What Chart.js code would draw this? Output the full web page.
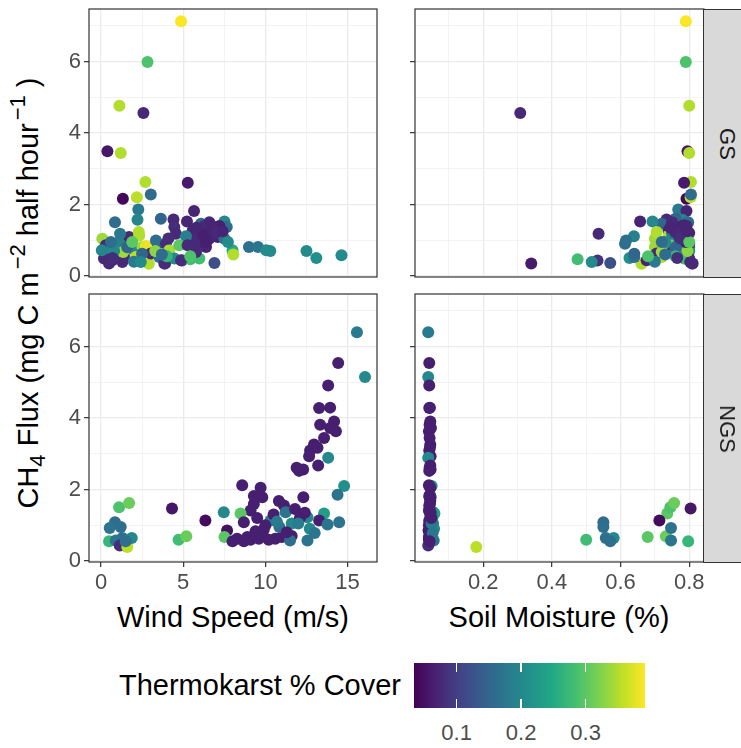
<!DOCTYPE html>
<html lang="en">
<head>
<meta charset="UTF-8" />
<title>CH4 Flux vs Wind Speed and Soil Moisture</title>
<script src="https://cdn.jsdelivr.net/npm/chart.js"></script>
<style>
  body {
    margin: 0;
    background: #ffffff;
    width: 741px;
    height: 748px;
    overflow: hidden;
    position: relative;
    font-family: 'Liberation Sans', Arial, sans-serif;
  }
  canvas { position: absolute; }
  .strip {
    position: absolute;
    background: #d9d9d9;
    border: 1px solid #333333;
    border-right: none;
    box-sizing: border-box;
  }
  .strip span {
    position: absolute;
    left: 23px;
    top: 50%;
    transform: translate(-50%, -50%) rotate(90deg);
    font-size: 22px;
    color: #1a1a1a;
    white-space: nowrap;
  }
  .title {
    position: absolute;
    font-size: 29px;
    color: #000000;
    white-space: nowrap;
    transform: translate(-50%, -50%);
  }
  .ytitle { transform: translate(-50%, -50%) rotate(-90deg); }
  .ytitle sub { font-size: 22px; vertical-align: -7px; line-height: 0; }
  .ytitle sup { font-size: 22px; vertical-align: 13px; line-height: 0; margin-left: 3px; }
  .legend-title {
    position: absolute;
    font-size: 29px;
    color: #000000;
    white-space: nowrap;
  }
  .colorbar { position: absolute; }
  .cb-tick { position: absolute; width: 1.5px; background: #ffffff; }
  .cb-label {
    position: absolute;
    font-size: 22px;
    color: #4d4d4d;
    transform: translate(-50%, -50%);
  }
</style>
</head>
<body>
<div class="title ytitle" style="left:28px; top:293px;">CH<sub>4</sub> Flux (mg C m<sup>&minus;2</sup> half hour<sup>&minus;1</sup> )</div>
<div class="title" style="left:233px; top:617px;">Wind Speed (m/s)</div>
<div class="title" style="left:559px; top:617px;">Soil Moisture (%)</div>

<script>
  // facet labels and axis ticks
  const facets = ['GS', 'NGS'];
  const fluxTicks = [0, 2, 4, 6];
  const windTicks = [0, 5, 10, 15];
  const soilTicks = [0.2, 0.4, 0.6, 0.8];
  const coverTicks = [0.1, 0.2, 0.3];

  // GS observations: wind speed, soil moisture, CH4 flux, thermokarst cover
  const gsWind  = [4.87, 2.83, 1.12, 2.58, 0.39, 1.20, 2.70, 5.28, 1.33, 2.18, 3.03, 2.27, 5.66, 2.22, 0.85, 3.64, 4.41, 5.23, 6.08, 6.59,
                   7.51, 7.65, 5.58, 6.09, 6.49, 6.90, 5.98, 6.59, 7.10, 5.37, 5.74, 6.39, 4.46, 4.56, 5.17, 3.44, 7.51, 8.00, 8.05, 9.00,
                   9.55, 10.05, 10.30, 12.50, 13.10, 14.63, 6.90, 4.92, 5.43, 3.90, 2.91, 2.70, 0.08, 0.29, 0.49, 0.18, 0.69, 1.10, 0.99, 1.40,
                   1.71, 1.91, 2.12, 2.52, 2.73, 3.03, 3.34, 3.54, 3.95, 4.15, 3.85, 4.46, 4.87, 4.76, 5.27, 5.98, 5.78, 1.30, 0.49, 2.32,
                   1.35, 0.80, 0.05, 1.16, 2.30, 7.72, 6.30, 6.80, 7.20, 5.90, 2.00, 1.60, 0.60, 3.30, 4.00, 2.50, 2.42, 5.43,
                   6.20, 6.70, 7.00, 5.80, 6.40, 4.10, 3.70, 1.90, 0.70, 7.40];
  const gsSoil  = [0.790, 0.790, 0.800, 0.308, 0.795, 0.800, 0.805, 0.785, 0.792, 0.804, 0.805, 0.768, 0.792, 0.780, 0.797, 0.760, 0.734, 0.657, 0.720, 0.750,
                   0.693, 0.780, 0.740, 0.760, 0.745, 0.770, 0.755, 0.775, 0.765, 0.735, 0.750, 0.790, 0.780, 0.536, 0.639, 0.613, 0.785, 0.740, 0.760, 0.795,
                   0.800, 0.780, 0.790, 0.800, 0.626, 0.790, 0.570, 0.533, 0.475, 0.340, 0.661, 0.720, 0.700, 0.760, 0.790, 0.800, 0.676, 0.740, 0.780, 0.795,
                   0.770, 0.790, 0.720, 0.700, 0.730, 0.705, 0.616, 0.640, 0.800, 0.725, 0.810, 0.790, 0.800, 0.745, 0.770, 0.785, 0.750, 0.803, 0.808, 0.740,
                   0.720, 0.760, 0.775, 0.750, 0.705, 0.730, 0.792, 0.800, 0.780, 0.785, 0.700, 0.760, 0.720, 0.795, 0.760, 0.640, 0.516, 0.680,
                   0.770, 0.785, 0.760, 0.745, 0.790, 0.775, 0.730, 0.800, 0.765, 0.795];
  const gsFlux  = [7.13, 5.99, 4.76, 4.56, 3.49, 3.44, 2.63, 2.61, 2.16, 2.20, 2.28, 1.86, 1.82, 1.57, 1.50, 1.60, 1.58, 1.52, 1.46, 1.50,
                   1.52, 1.37, 1.27, 1.18, 1.32, 1.27, 0.99, 1.04, 1.09, 0.99, 0.86, 0.81, 1.37, 1.18, 1.11, 0.90, 1.04, 0.72, 0.60, 0.81,
                   0.81, 0.72, 0.70, 0.70, 0.50, 0.58, 0.36, 0.43, 0.47, 0.35, 0.34, 0.82, 1.04, 0.86, 0.67, 0.49, 0.44, 0.95, 0.63, 0.55,
                   1.09, 0.76, 0.53, 0.81, 0.84, 0.63, 0.99, 0.53, 0.90, 0.72, 0.35, 0.49, 0.44, 0.86, 0.86, 0.49, 0.67, 0.39, 0.35, 1.13,
                   0.67, 0.70, 0.72, 1.18, 1.23, 0.95, 1.40, 1.20, 1.40, 1.10, 0.40, 0.80, 0.95, 0.70, 0.55, 0.62, 0.39, 0.55,
                   1.15, 1.42, 1.22, 1.35, 0.95, 1.05, 0.60, 0.95, 0.50, 1.25];
  const gsCover = [0.390, 0.290, 0.350, 0.075, 0.055, 0.350, 0.350, 0.060, 0.040, 0.355, 0.160, 0.180, 0.070, 0.195, 0.160, 0.150, 0.075, 0.070, 0.150, 0.075,
                   0.200, 0.165, 0.070, 0.070, 0.065, 0.075, 0.070, 0.075, 0.070, 0.080, 0.075, 0.070, 0.080, 0.075, 0.190, 0.160, 0.165, 0.250, 0.350, 0.165,
                   0.175, 0.205, 0.205, 0.205, 0.210, 0.205, 0.120, 0.085, 0.280, 0.060, 0.350, 0.360, 0.340, 0.075, 0.200, 0.075, 0.070, 0.190, 0.290, 0.080,
                   0.075, 0.200, 0.355, 0.340, 0.380, 0.075, 0.165, 0.165, 0.080, 0.345, 0.080, 0.200, 0.080, 0.300, 0.075, 0.280, 0.075, 0.075, 0.075, 0.350,
                   0.340, 0.200, 0.195, 0.180, 0.350, 0.205, 0.075, 0.070, 0.065, 0.075, 0.180, 0.150, 0.160, 0.330, 0.270, 0.150, 0.205, 0.290,
                   0.065, 0.070, 0.075, 0.070, 0.065, 0.080, 0.160, 0.300, 0.080, 0.070];

  // NGS observations
  const ngsWind  = [15.57, 14.43, 16.06, 13.82, 13.27, 13.94, 13.33, 14.18, 14.29, 13.94, 13.57, 12.96, 12.72, 12.66, 13.17, 13.82, 13.21, 11.90, 12.30, 12.05,
                    14.79, 14.39, 8.59, 9.71, 9.30, 9.81, 12.31, 9.30, 9.10, 10.82, 11.13, 7.47, 8.49, 8.69, 6.35, 4.32, 11.23, 10.32, 12.56, 13.57,
                    13.27, 13.78, 14.49, 7.67, 7.51, 8.28, 8.69, 9.10, 9.60, 9.85, 10.20, 10.60, 9.40, 9.90, 8.90, 11.00, 11.60, 11.50, 12.56, 10.85,
                    11.60, 12.70, 4.72, 5.19, 1.10, 1.71, 0.85, 0.53, 1.30, 0.49, 0.90, 1.14, 1.60, 1.87, 1.50, 10.50, 11.80, 12.10, 10.00, 11.30,
                    12.00, 12.40, 10.70, 9.50, 13.00, 8.00, 1.20];
  const ngsSoil  = [0.040, 0.043, 0.040, 0.043, 0.043, 0.045, 0.044, 0.046, 0.042, 0.048, 0.044, 0.046, 0.043, 0.047, 0.045, 0.040, 0.046, 0.044, 0.047, 0.043,
                    0.050, 0.045, 0.042, 0.046, 0.043, 0.047, 0.044, 0.045, 0.042, 0.046, 0.043, 0.055, 0.736, 0.044, 0.713, 0.804, 0.050, 0.048, 0.052, 0.058,
                    0.043, 0.047, 0.052, 0.041, 0.679, 0.042, 0.045, 0.043, 0.047, 0.044, 0.046, 0.043, 0.048, 0.045, 0.042, 0.047, 0.044, 0.053, 0.056, 0.050,
                    0.054, 0.057, 0.500, 0.732, 0.745, 0.756, 0.550, 0.747, 0.557, 0.797, 0.747, 0.040, 0.180, 0.580, 0.570, 0.046, 0.044, 0.048, 0.042, 0.045,
                    0.050, 0.047, 0.051, 0.049, 0.053, 0.044, 0.550];
  const ngsFlux  = [6.40, 5.54, 5.15, 4.91, 4.28, 4.29, 3.81, 3.90, 3.63, 3.72, 3.44, 3.26, 3.09, 2.93, 3.17, 2.89, 2.67, 2.61, 2.56, 2.52,
                    2.10, 1.85, 2.12, 2.05, 1.82, 1.78, 1.78, 1.59, 1.41, 1.68, 1.55, 1.36, 1.33, 1.08, 1.13, 1.47, 1.36, 1.13, 1.22, 1.33,
                    1.13, 1.02, 1.08, 0.85, 0.67, 0.62, 0.55, 0.59, 0.62, 0.70, 0.59, 0.62, 0.83, 0.87, 0.67, 0.67, 0.70, 0.57, 0.57, 0.95,
                    1.05, 0.90, 0.59, 0.69, 1.50, 1.62, 1.08, 0.92, 0.64, 0.55, 0.57, 0.43, 0.39, 0.64, 0.55, 1.30, 1.45, 1.20, 1.00, 0.80,
                    1.05, 1.35, 1.10, 1.20, 0.78, 0.55, 0.95];
  const ngsCover = [0.180, 0.065, 0.200, 0.065, 0.065, 0.065, 0.065, 0.065, 0.065, 0.065, 0.065, 0.065, 0.065, 0.065, 0.065, 0.200, 0.065, 0.065, 0.065, 0.065,
                    0.210, 0.170, 0.065, 0.065, 0.065, 0.065, 0.065, 0.065, 0.065, 0.065, 0.065, 0.200, 0.300, 0.065, 0.045, 0.055, 0.170, 0.185, 0.200, 0.230,
                    0.065, 0.170, 0.170, 0.050, 0.300, 0.065, 0.065, 0.065, 0.065, 0.065, 0.065, 0.065, 0.065, 0.065, 0.065, 0.065, 0.065, 0.165, 0.170, 0.165,
                    0.200, 0.200, 0.280, 0.310, 0.290, 0.310, 0.160, 0.170, 0.165, 0.270, 0.175, 0.080, 0.355, 0.200, 0.165, 0.065, 0.065, 0.065, 0.065, 0.065,
                    0.185, 0.065, 0.180, 0.065, 0.175, 0.065, 0.165];

  // colour scale limits (data range of cover)
  const coverMin = 0.034;
  const coverMax = 0.392;
  const viridisStops = ['#440154', '#482475', '#414487', '#355f8d', '#2a788e', '#21918c',
                        '#22a884', '#44bf70', '#7ad151', '#bddf26', '#fde725'];

  function hexToRgb(h) {
    return [parseInt(h.slice(1, 3), 16), parseInt(h.slice(3, 5), 16), parseInt(h.slice(5, 7), 16)];
  }
  function viridis(v) {
    let t = (v - coverMin) / (coverMax - coverMin);
    t = Math.max(0, Math.min(1, t));
    const p = t * (viridisStops.length - 1);
    const i = Math.min(Math.floor(p), viridisStops.length - 2);
    const f = p - i;
    const a = hexToRgb(viridisStops[i]), b = hexToRgb(viridisStops[i + 1]);
    const c = a.map((x, k) => Math.round(x + (b[k] - x) * f));
    return `rgb(${c[0]},${c[1]},${c[2]})`;
  }

  // major ticks plus ggplot-style minor breaks halfway between
  function withMinors(major, min, max) {
    const step = major[1] - major[0];
    const all = [];
    for (let i = -1; i < major.length; i++) {
      const base = i < 0 ? major[0] - step : major[i];
      if (i >= 0) all.push(base);
      all.push(+(base + step / 2).toFixed(6));
    }
    return all.filter(v => v >= min && v <= max);
  }
  const isMajor = (major, v) => major.some(m => Math.abs(m - v) < 1e-9);

  const panelBox = {
    id: 'panelBox',
    afterDraw(chart) {
      const { ctx, chartArea: a } = chart;
      ctx.save();
      ctx.strokeStyle = '#333333';
      ctx.lineWidth = 1.2;
      ctx.strokeRect(a.left, a.top, a.right - a.left, a.bottom - a.top);
      ctx.restore();
    }
  };

  const Y_W = 45, PAD = 20, X_H = 40;
  const yRange = [-0.03, 7.47];
  const windRange = [-0.73, 16.79];
  const soilRange = [0.0015, 0.843];

  function axis(major, range, showLabels, showTicks, isX) {
    const all = withMinors(major, range[0], range[1]);
    return {
      type: 'linear',
      min: range[0],
      max: range[1],
      position: isX ? 'bottom' : 'left',
      afterBuildTicks: s => { s.ticks = all.map(v => ({ value: v })); },
      afterFit: s => { if (isX) s.height = showTicks ? X_H : 0; else s.width = Y_W; },
      border: { display: false },
      grid: {
        color: '#ebebeb',
        lineWidth: c => (c.tick && isMajor(major, c.tick.value)) ? 1.3 : 0.6,
        drawTicks: showTicks,
        tickLength: 5,
        tickWidth: 1.2,
        tickColor: c => (c.tick && isMajor(major, c.tick.value)) ? '#333333' : 'rgba(0,0,0,0)'
      },
      ticks: {
        display: showTicks,
        autoSkip: false,
        maxRotation: 0,
        padding: 3,
        color: '#4d4d4d',
        font: { family: "'Liberation Sans', Arial, sans-serif", size: 22 },
        callback: v => (showLabels && isMajor(major, v)) ? String(v) : ''
      }
    };
  }

  function makePanel(x0, y0, w, h, xs, ys, cover, xMajor, xRange, leftCol, bottomRow) {
    const cv = document.createElement('canvas');
    const cw = Y_W + w + PAD;
    const ch = PAD + h + PAD + (bottomRow ? X_H : 0);
    cv.width = cw; cv.height = ch;
    cv.style.width = cw + 'px';
    cv.style.height = ch + 'px';
    document.body.appendChild(cv);
    const chart = new Chart(cv.getContext('2d'), {
      type: 'scatter',
      data: {
        datasets: [{
          data: xs.map((x, i) => ({ x: x, y: ys[i] })),
          pointRadius: 6,
          pointHoverRadius: 6,
          pointBorderWidth: 0,
          pointBackgroundColor: cover.map(viridis),
          pointBorderColor: cover.map(viridis)
        }]
      },
      options: {
        responsive: false,
        animation: false,
        devicePixelRatio: 1,
        layout: { autoPadding: false, padding: { top: PAD, right: PAD, bottom: PAD, left: 0 } },
        plugins: { legend: { display: false }, tooltip: { enabled: false } },
        scales: {
          x: axis(xMajor, xRange, bottomRow, bottomRow, true),
          y: axis(fluxTicks, yRange, leftCol, true, false)
        }
      },
      plugins: [panelBox]
    });
    // fit the plotting area exactly to the panel box
    const a = chart.chartArea;
    const dw = w - (a.right - a.left), dh = h - (a.bottom - a.top);
    if (Math.abs(dw) > 0.01 || Math.abs(dh) > 0.01) {
      chart.resize(Math.round(cw + dw), Math.round(ch + dh));
    }
    const b = chart.chartArea;
    cv.style.left = (x0 - b.left) + 'px';
    cv.style.top = (y0 - b.top) + 'px';
  }

  function addStrip(label, x, y, w, h) {
    const d = document.createElement('div');
    d.className = 'strip';
    d.style.left = x + 'px'; d.style.top = y + 'px';
    d.style.width = w + 'px'; d.style.height = h + 'px';
    const s = document.createElement('span');
    s.textContent = label;
    d.appendChild(s);
    document.body.appendChild(d);
  }

  const LX = 89, RX = 415, PW_L = 288, PW_R = 289, TY = 9, BY = 294, PH = 268;

  makePanel(LX, TY, PW_L, PH, gsWind, gsFlux, gsCover, windTicks, windRange, true, false);
  makePanel(RX, TY, PW_R, PH, gsSoil, gsFlux, gsCover, soilTicks, soilRange, false, false);
  makePanel(LX, BY, PW_L, PH, ngsWind, ngsFlux, ngsCover, windTicks, windRange, true, true);
  makePanel(RX, BY, PW_R, PH, ngsSoil, ngsFlux, ngsCover, soilTicks, soilRange, false, true);

  addStrip(facets[0], RX + PW_R - 1, TY, 60, PH + 1);
  addStrip(facets[1], RX + PW_R - 1, BY, 60, PH + 1);

  // colour bar legend
  const CB_X = 414, CB_Y = 663, CB_W = 231, CB_H = 45;
  const lt = document.createElement('div');
  lt.className = 'legend-title';
  lt.textContent = 'Thermokarst % Cover';
  lt.style.right = (741 - 401) + 'px';
  lt.style.top = (CB_Y + CB_H / 2 - 17) + 'px';
  document.body.appendChild(lt);

  const cb = document.createElement('div');
  cb.className = 'colorbar';
  cb.style.left = CB_X + 'px'; cb.style.top = CB_Y + 'px';
  cb.style.width = CB_W + 'px'; cb.style.height = CB_H + 'px';
  cb.style.background = `linear-gradient(to right, ${viridisStops.join(', ')})`;
  document.body.appendChild(cb);

  coverTicks.forEach(v => {
    const px = CB_X + (v - coverMin) / (coverMax - coverMin) * CB_W;
    [CB_Y, CB_Y + CB_H - 9].forEach(ty => {
      const t = document.createElement('div');
      t.className = 'cb-tick';
      t.style.left = (px - 0.75) + 'px'; t.style.top = ty + 'px'; t.style.height = '9px';
      document.body.appendChild(t);
    });
    const l = document.createElement('div');
    l.className = 'cb-label';
    l.textContent = v.toFixed(1);
    l.style.left = px + 'px'; l.style.top = '733px';
    document.body.appendChild(l);
  });
</script>
</body>
</html>
